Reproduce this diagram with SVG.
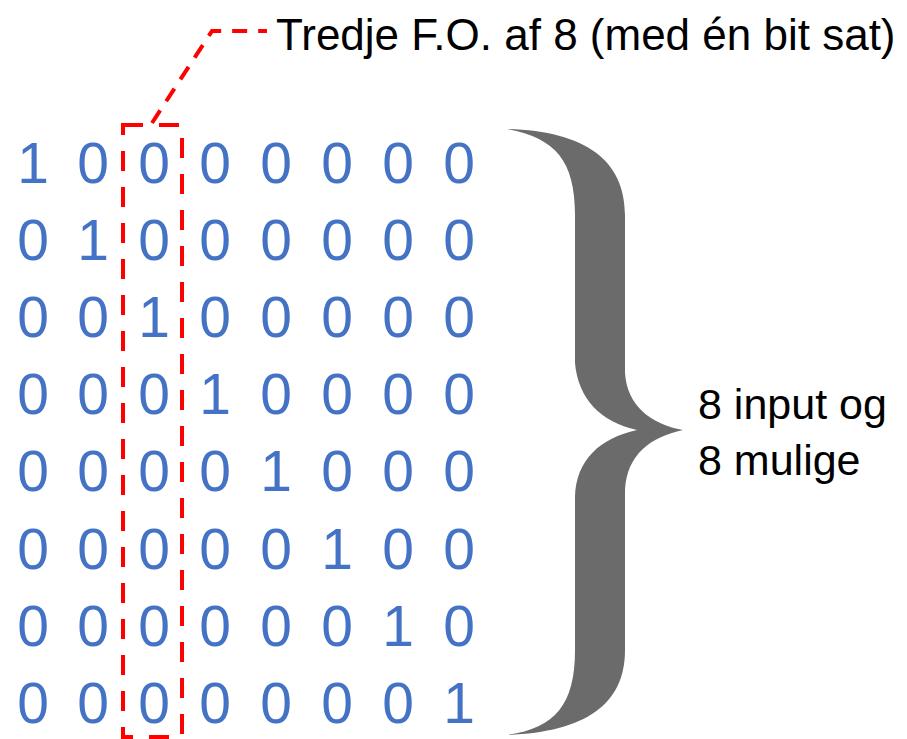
<svg xmlns="http://www.w3.org/2000/svg" width="907" height="739" viewBox="0 0 907 739">
<style>
.bit{font-family:"Liberation Sans",Arial,sans-serif;font-size:57px;fill:#4472C4;text-anchor:middle}
.lbl{font-family:"Liberation Sans",Arial,sans-serif;fill:#000}
.red{fill:none;stroke:#FF0000;stroke-width:4}
</style>
<rect width="907" height="739" fill="#fff"/>
<g id="matrix">
<text class="bit" y="183"><tspan x="33">1</tspan><tspan x="93">0</tspan><tspan x="154">0</tspan><tspan x="215">0</tspan><tspan x="276">0</tspan><tspan x="337">0</tspan><tspan x="398">0</tspan><tspan x="459">0</tspan></text>
<text class="bit" y="260"><tspan x="33">0</tspan><tspan x="93">1</tspan><tspan x="154">0</tspan><tspan x="215">0</tspan><tspan x="276">0</tspan><tspan x="337">0</tspan><tspan x="398">0</tspan><tspan x="459">0</tspan></text>
<text class="bit" y="337"><tspan x="33">0</tspan><tspan x="93">0</tspan><tspan x="154">1</tspan><tspan x="215">0</tspan><tspan x="276">0</tspan><tspan x="337">0</tspan><tspan x="398">0</tspan><tspan x="459">0</tspan></text>
<text class="bit" y="414"><tspan x="33">0</tspan><tspan x="93">0</tspan><tspan x="154">0</tspan><tspan x="215">1</tspan><tspan x="276">0</tspan><tspan x="337">0</tspan><tspan x="398">0</tspan><tspan x="459">0</tspan></text>
<text class="bit" y="491"><tspan x="33">0</tspan><tspan x="93">0</tspan><tspan x="154">0</tspan><tspan x="215">0</tspan><tspan x="276">1</tspan><tspan x="337">0</tspan><tspan x="398">0</tspan><tspan x="459">0</tspan></text>
<text class="bit" y="569"><tspan x="33">0</tspan><tspan x="93">0</tspan><tspan x="154">0</tspan><tspan x="215">0</tspan><tspan x="276">0</tspan><tspan x="337">1</tspan><tspan x="398">0</tspan><tspan x="459">0</tspan></text>
<text class="bit" y="646"><tspan x="33">0</tspan><tspan x="93">0</tspan><tspan x="154">0</tspan><tspan x="215">0</tspan><tspan x="276">0</tspan><tspan x="337">0</tspan><tspan x="398">1</tspan><tspan x="459">0</tspan></text>
<text class="bit" y="723"><tspan x="33">0</tspan><tspan x="93">0</tspan><tspan x="154">0</tspan><tspan x="215">0</tspan><tspan x="276">0</tspan><tspan x="337">0</tspan><tspan x="398">0</tspan><tspan x="459">1</tspan></text>
</g>
<g id="highlight">
<rect class="red" x="123" y="125" width="59" height="612" stroke-dasharray="20 16"/>
</g>
<g id="connectors">
<path class="red" d="M152,123 L212,31 L267,31" stroke-dasharray="15 11"/>
</g>
<g id="title">
<text class="lbl" x="276" y="50" font-size="44">Tredje F.O. af 8 (med én bit sat)</text>
</g>
<g id="brace">
<path fill="#6B6B6B" d="M507,129 C585,131 625,160 625,215 L625,373 C627,405 650,424 683,430 C650,437 627,455 625,490 L625,650 C625,705 585,732 507,735 C555,728 575,705 575,650 L575,497 C576,460 600,438 637,430 C600,422 578,398 575,363 L575,215 C575,160 555,138 507,129 Z"/>
</g>
<g id="brace-label">
<text class="lbl" x="698" y="419" font-size="43">8 input og</text>
<text class="lbl" x="698" y="475" font-size="43">8 mulige</text>
</g>
</svg>
